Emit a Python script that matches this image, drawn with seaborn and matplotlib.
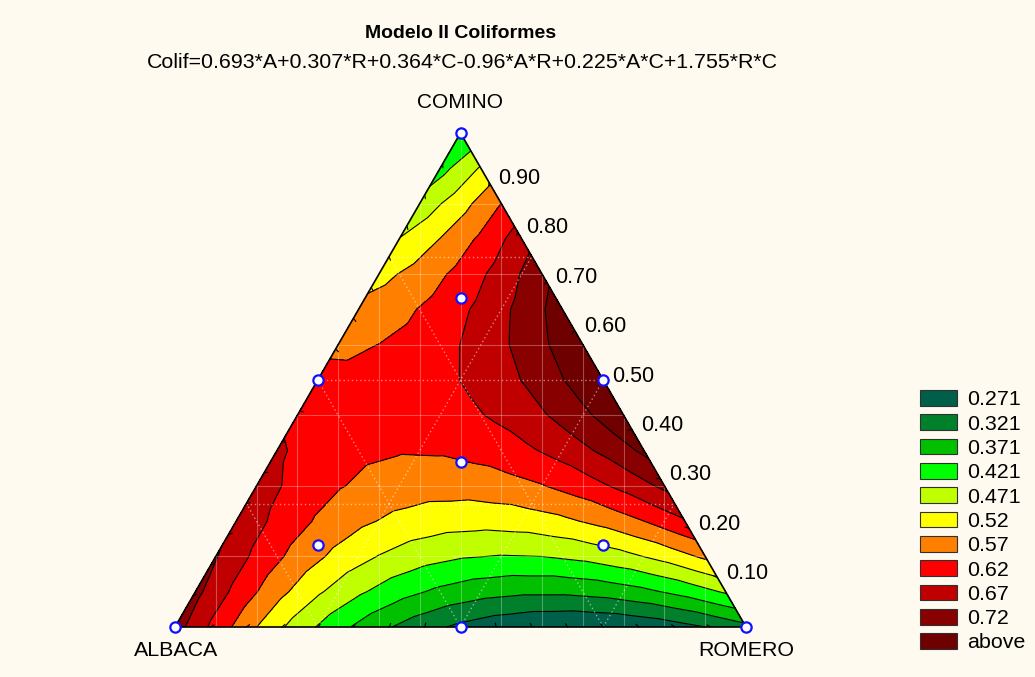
import numpy as np
import matplotlib
matplotlib.use("Agg")
import matplotlib.pyplot as plt
import matplotlib.tri as mtri
from matplotlib.patches import Polygon, Patch
import seaborn as sns
import pandas as pd

# ---------------- data ----------------
title = "Modelo II Coliformes"
equation = "Colif=0.693*A+0.307*R+0.364*C-0.96*A*R+0.225*A*C+1.755*R*C"
vertex_names = ["ALBACA", "ROMERO", "COMINO"]
# model coefficients (A = albaca, R = romero, C = comino)
coef_A, coef_R, coef_C = 0.693, 0.307, 0.364
coef_AR, coef_AC, coef_RC = -0.96, 0.225, 1.755
level_bounds = [0.271, 0.321, 0.371, 0.421, 0.471, 0.52, 0.57, 0.62, 0.67, 0.72]
legend_labels = ["0.271", "0.321", "0.371", "0.421", "0.471", "0.52", "0.57",
                 "0.62", "0.67", "0.72", "above"]
band_colors = ["#005F48", "#00802A", "#00C000", "#00FF00", "#C0FF00", "#FFFF00",
               "#FF8000", "#FF0000", "#C00000", "#880000", "#6E0000"]
axis_ticks = [0.1, 0.2, 0.3, 0.4, 0.5, 0.6, 0.7, 0.8, 0.9]
axis_tick_labels = ["0.10", "0.20", "0.30", "0.40", "0.50", "0.60", "0.70", "0.80", "0.90"]
# simplex-centroid design points
design_A = [1, 0, 0, 0.5, 0.5, 0, 1/3, 2/3, 1/6, 1/6]
design_R = [0, 1, 0, 0.5, 0, 0.5, 1/3, 1/6, 2/3, 1/6]
design_C = [0, 0, 1, 0, 0.5, 0.5, 1/3, 1/6, 1/6, 2/3]

# ---------------- layout ----------------
W, H = 1035, 677
BG = "#FFFAF0"
XA, YA = 175.0, 627.0
XR, YR = 746.0, 627.0
XC, YC = 460.5, 133.0


def to_xy(a, r, c):
    a, r, c = np.asarray(a, float), np.asarray(r, float), np.asarray(c, float)
    return a * XA + r * XR + c * XC, a * YA + r * YR + c * YC


def model(a, r, c):
    return (coef_A * a + coef_R * r + coef_C * c + coef_AR * a * r
            + coef_AC * a * c + coef_RC * r * c)


sns.set_style("white")
plt.rcParams["font.family"] = ["Liberation Sans", "DejaVu Sans"]
plt.rcParams["text.color"] = "black"

fig = plt.figure(figsize=(W / 100, H / 100), dpi=100, facecolor=BG)
ax = fig.add_axes([0, 0, 1, 1])
ax.set_facecolor(BG)
ax.set_xlim(0, W)
ax.set_ylim(H, 0)
ax.axis("off")

# lattice for the response surface
n = 14
aa, rr = [], []
for i in range(n + 1):
    for j in range(n + 1 - i):
        aa.append(i / n)
        rr.append(j / n)
aa = np.array(aa); rr = np.array(rr); cc = np.clip(1 - aa - rr, 0, 1)
px, py = to_xy(aa, rr, cc)
z = model(aa, rr, cc)
tri = mtri.Triangulation(px, py)
levels = [-10] + level_bounds + [10]
ax.tricontourf(tri, z, levels=levels, colors=band_colors, zorder=1)
ax.tricontour(tri, z, levels=level_bounds, colors="black", linewidths=0.8, zorder=2)

tri_poly = Polygon([[XA, YA], [XR, YR], [XC, YC]], closed=True, transform=ax.transData)

# faint cartesian grid
for k in range(1, 14):
    x = XA + k * (XR - XA) / 14
    l, = ax.plot([x, x], [YC, YA], color="white", alpha=0.3, lw=0.8, zorder=3)
    l.set_clip_path(tri_poly)
for k in range(1, 7):
    y = YA - k * (YA - YC) / 7
    l, = ax.plot([XA, XR], [y, y], color="white", alpha=0.3, lw=0.8, zorder=3)
    l.set_clip_path(tri_poly)

# dotted ternary grid
for v in [0.25, 0.5, 0.75]:
    w = 1 - v
    segs = [((v, w, 0), (v, 0, w)), ((w, v, 0), (0, v, w)), ((w, 0, v), (0, w, v))]
    for p, q in segs:
        x0, y0 = to_xy(*p); x1, y1 = to_xy(*q)
        ax.plot([x0, x1], [y0, y1], color="white", alpha=0.5, lw=1.0,
                linestyle=(0, (1, 2)), zorder=3)

# triangle outline
ax.add_patch(Polygon([[XA, YA], [XR, YR], [XC, YC]], closed=True, fill=False,
                     edgecolor="black", lw=1.2, zorder=4))

# edge ticks
cx, cy = (XA + XR + XC) / 3, (YA + YR + YC) / 3
def tick_at(x, y, length=4):
    dx, dy = cx - x, cy - y
    nrm = np.hypot(dx, dy)
    ax.plot([x, x + dx / nrm * length], [y, y + dy / nrm * length], color="black",
            lw=0.8, zorder=4)

for k in range(1, 16):
    t = k / 16
    tick_at(*to_xy(1 - t, t, 0))
    tick_at(*to_xy(1 - t, 0, t))
for v in axis_ticks:
    tick_at(*to_xy(0, 1 - v, v))

# right edge tick labels (COMINO proportion)
for v, lab in zip(axis_ticks, axis_tick_labels):
    x, y = to_xy(0, 1 - v, v)
    ax.text(x + 9, y - 4, lab, ha="left", va="center", fontsize=15.5, zorder=5)

# design points
pts = pd.DataFrame({"A": design_A, "R": design_R, "C": design_C})
pts["x"], pts["y"] = to_xy(pts["A"], pts["R"], pts["C"])
sns.scatterplot(data=pts, x="x", y="y", ax=ax, s=55, color="white",
                edgecolor="#1010FF", linewidth=1.6, zorder=6, legend=False)
ax.set_xlim(0, W); ax.set_ylim(H, 0); ax.axis("off")

# texts
ax.text(461, 33, title, ha="center", va="center", fontsize=14, fontweight="bold")
ax.text(462, 63, equation, ha="center", va="center", fontsize=15.4)
ax.text(XC, 102, vertex_names[2], ha="center", va="center", fontsize=15)
ax.text(XA + 1, 650, vertex_names[0], ha="center", va="center", fontsize=15.4)
ax.text(XR, 650, vertex_names[1], ha="center", va="center", fontsize=15.4)

# legend
handles = [Patch(facecolor=c, edgecolor="#303030", linewidth=0.8) for c in band_colors]
fig.legend(handles=handles, labels=legend_labels, loc="upper left",
           bbox_to_anchor=(920 / W, 1 - 390 / H), frameon=False, fontsize=15.4,
           handlelength=1.72, handleheight=0.75, labelspacing=0.235, handletextpad=0.5,
           borderpad=0, borderaxespad=0)

fig.savefig("out.png", dpi=100, facecolor=BG)
